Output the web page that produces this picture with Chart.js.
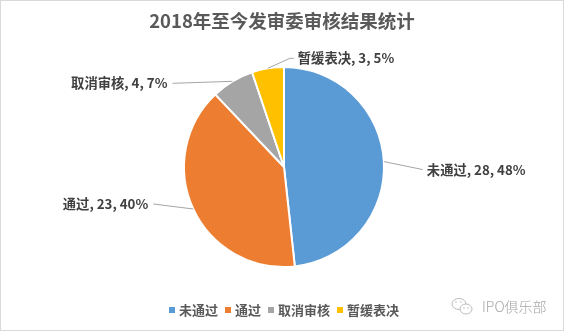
<!DOCTYPE html>
<html>
<head>
<meta charset="utf-8">
<script src="https://cdn.jsdelivr.net/npm/chart.js@4/dist/chart.umd.min.js"></script>
<style>
html,body{margin:0;padding:0;background:#fff;}
canvas{display:block;}
</style>
</head>
<body>
<canvas id="c" width="565" height="332"></canvas>
<script>
// ---- data ----
const categories = ['未通过', '通过', '取消审核', '暂缓表决'];
const counts = [28, 23, 4, 3];
const colors = ['#5B9BD5', '#ED7D31', '#A5A5A5', '#FFC000'];
const titleText = '2018年至今发审委审核结果统计';
const watermarkText = 'IPO俱乐部';

// ---- label styling (leader line offsets from slice edge) ----
const labelLayout = [
  {dx: 39, dy: 8, ext: 0, align: 'left'},
  {dx: -40, dy: -5, ext: 0, align: 'right'},
  {dx: -60, dy: 2, ext: 0, align: 'right'},
  {dx: 22, dy: -10, ext: 4, align: 'left'}
];
const FONT = '"Noto Sans CJK SC", "Noto Sans", sans-serif';

const total = counts.reduce((a, b) => a + b, 0);

const decor = {
  id: 'decor',
  beforeDraw(chart) {
    const ctx = chart.ctx;
    ctx.save();
    ctx.fillStyle = '#fff';
    ctx.fillRect(0, 0, chart.width, chart.height);
    ctx.strokeStyle = '#d9d9d9';
    ctx.lineWidth = 1;
    ctx.strokeRect(0.5, 0.5, 563, 330);
    ctx.restore();
  },
  afterDraw(chart) {
    const ctx = chart.ctx;
    const meta = chart.getDatasetMeta(0);
    ctx.save();
    // title
    ctx.fillStyle = '#595959';
    ctx.font = 'bold 18.5px ' + FONT;
    ctx.textAlign = 'center';
    ctx.textBaseline = 'middle';
    ctx.fillText(titleText, 282, 21);

    // data labels
    ctx.font = 'bold 13.3px ' + FONT;
    meta.data.forEach((arc, i) => {
      const mid = (arc.startAngle + arc.endAngle) / 2;
      const ex = arc.x + Math.cos(mid) * arc.outerRadius;
      const ey = arc.y + Math.sin(mid) * arc.outerRadius;
      const L = labelLayout[i];
      const mx = ex + L.dx, my = ey + L.dy;
      const fx = mx + (L.align === 'left' ? L.ext : -L.ext);
      ctx.strokeStyle = '#a6a6a6';
      ctx.lineWidth = 1;
      ctx.beginPath();
      ctx.moveTo(ex, ey);
      ctx.lineTo(mx, my);
      if (L.ext) ctx.lineTo(fx, my);
      ctx.stroke();
      const pct = Math.round(counts[i] / total * 100) + '%';
      const txt = categories[i] + ', ' + counts[i] + ', ' + pct;
      ctx.fillStyle = '#404040';
      ctx.textAlign = L.align;
      ctx.textBaseline = 'middle';
      ctx.fillText(txt, L.align === 'left' ? fx + 4 : fx - 5, my);
    });

    // legend
    ctx.font = 'bold 13px ' + FONT;
    const box = 6, gapBox = 4, gapItem = 7;
    const widths = categories.map(c => box + gapBox + ctx.measureText(c).width);
    const totalW = widths.reduce((a, b) => a + b, 0) + gapItem * (categories.length - 1);
    let x = 284 - totalW / 2;
    const ly = 310;
    ctx.textAlign = 'left';
    ctx.textBaseline = 'middle';
    categories.forEach((c, i) => {
      ctx.fillStyle = colors[i];
      ctx.fillRect(x, ly - 3, box, box);
      ctx.fillStyle = '#595959';
      ctx.fillText(c, x + box + gapBox, ly);
      x += widths[i] + gapItem;
    });

    // watermark
    ctx.strokeStyle = '#bdbdbd';
    ctx.lineWidth = 1;
    ctx.beginPath();
    ctx.ellipse(459, 304, 7, 5.5, 0, 0, Math.PI * 2);
    ctx.stroke();
    ctx.fillStyle = '#fff';
    ctx.beginPath();
    ctx.ellipse(466, 309, 6, 5, 0, 0, Math.PI * 2);
    ctx.fill();
    ctx.stroke();
    ctx.fillStyle = '#bdbdbd';
    [[456, 302], [461, 302], [464, 308], [468, 308]].forEach(p => {
      ctx.beginPath(); ctx.arc(p[0], p[1], 0.8, 0, Math.PI * 2); ctx.fill();
    });
    ctx.fillStyle = '#a6a6a6';
    ctx.font = '300 14px ' + FONT;
    ctx.textAlign = 'left';
    ctx.fillText(watermarkText, 482, 307);
    ctx.restore();
  }
};

new Chart(document.getElementById('c'), {
  type: 'pie',
  data: {
    labels: categories,
    datasets: [{
      data: counts,
      backgroundColor: colors,
      borderColor: '#ffffff',
      borderWidth: 2
    }]
  },
  options: {
    responsive: false,
    devicePixelRatio: 1,
    animation: false,
    layout: {padding: {top: 66, bottom: 64, left: 183, right: 180}},
    plugins: {
      legend: {display: false},
      title: {display: false},
      tooltip: {enabled: false}
    }
  },
  plugins: [decor]
});
</script>
</body>
</html>
